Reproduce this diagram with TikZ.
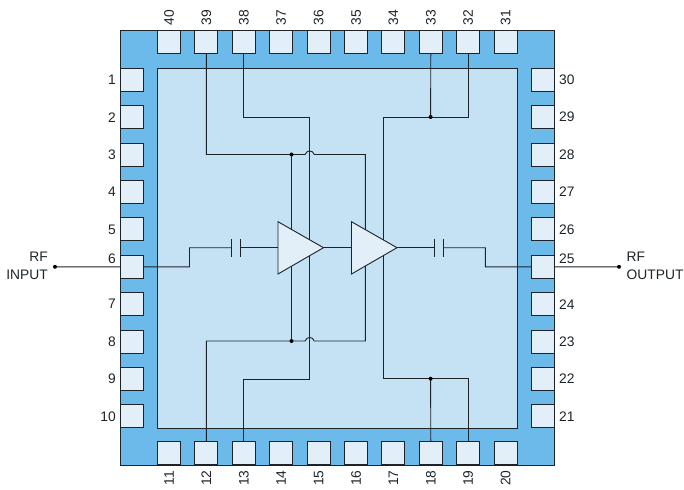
\documentclass[tikz,border=0pt]{standalone}
\usepackage{fontspec}
\setmainfont{Liberation Sans}
\definecolor{pkg}{HTML}{6CBAE9}
\definecolor{die}{HTML}{C5E1F4}
\definecolor{padc}{HTML}{E2EEF8}
\definecolor{ink}{HTML}{1C2429}
\tikzset{
  padbox/.style={draw=ink,fill=padc,line width=0.9pt,minimum width=23pt,minimum height=23pt,inner sep=0pt,outer sep=0pt},
  pinlabel/.style={font=\fontsize{13.8}{14}\selectfont,text=ink,inner sep=0pt},
  wire/.style={draw=ink,line width=0.9pt,line join=miter},
  amp/.style={draw=ink,fill=padc,line width=0.9pt,line join=miter},
  junction/.style={circle,fill=black,minimum size=4pt,inner sep=0pt,outer sep=0pt},
  plate/.style={draw=ink,line width=1pt}
}
\begin{document}
\begin{tikzpicture}[x=1pt,y=-1pt]
\useasboundingbox (0,0) rectangle (684,489);
\node[draw=ink,fill=pkg,line width=0.9pt,minimum width=434pt,minimum height=434.5pt,inner sep=0pt,outer sep=0pt] (pkgbody) at (337.5,247.75) {};
\node[draw=ink,fill=die,line width=0.9pt,minimum width=360pt,minimum height=360pt,inner sep=0pt,outer sep=0pt] (diebody) at (337.5,248) {};
% pads
\foreach \i in {1,...,10}{
  \pgfmathsetmacro{\yy}{79.8+37.4*(\i-1)}
  \pgfmathsetmacro{\ly}{\i==6 ? 258.5 : \yy}
  \node[padbox] (p\i) at (132,\yy) {};
  \node[pinlabel,anchor=east] at (116,\ly) {\i};
  \pgfmathtruncatemacro{\j}{31-\i}
  \node[padbox] (p\j) at (543,\yy) {};
  \node[pinlabel,anchor=west] at (559,\ly) {\j};
}
\foreach \i in {1,...,10}{
  \pgfmathsetmacro{\xx}{169+37.4*(\i-1)}
  \pgfmathtruncatemacro{\j}{10+\i}
  \node[padbox] (p\j) at (\xx,453.4) {};
  \node[pinlabel,rotate=90] at (\xx,478) {\j};
  \pgfmathtruncatemacro{\k}{41-\i}
  \node[padbox] (p\k) at (\xx,42.3) {};
  \node[pinlabel,rotate=90] at (\xx,18) {\k};
}
% helper points
\coordinate (a1in) at (278,247.7);
\coordinate (a1out) at (323.5,247.7);
\coordinate (a2in) at (351.5,247.7);
\coordinate (a2out) at (397,247.7);
% wires: top
\draw[wire] (p39.south) |- (305.2,154.5)
  .. controls (306.2,149.8) and (313.2,149.8) .. (314.2,154.5) -- (365.3,154.5) -- (365.3,247.7);
\draw[wire] (p38.south) |- (309.7,117) -- (309.7,341);
\draw[wire] (291.5,154.5) -- (291.5,341);
% wires: bottom
\draw[wire] (p12.north) |- (305.2,341)
  .. controls (306.2,336.3) and (313.2,336.3) .. (314.2,341) -- (365.3,341) -- (365.3,247.7);
\draw[wire] (p13.north) |- (309.7,379) -- (309.7,336);
\draw[wire] (p32.south) |- (383.3,117) -- (383.3,378.7) -| (p19.north);
\draw[wire] (p33.south) -- (430.6,117);
\draw[wire] (p18.north) -- (430.6,378.7);
% junctions
\node[junction] (j1) at (291.5,154.5) {};
\node[junction] (j2) at (291.5,341) {};
\node[junction] (j3) at (430.6,117) {};
\node[junction] (j4) at (430.6,378.7) {};
% signal path
\coordinate (c1a) at (231,247.7);
\coordinate (c1b) at (240.5,247.7);
\coordinate (c2a) at (434.7,247.7);
\coordinate (c2b) at (443.7,247.7);
\draw[wire] (p6.east) -- (189.5,266.8) -- (189.5,247.7) -- (c1a);
\draw[wire] (c1b) -- (a1in);
\draw[wire] (a1out) -- (a2in);
\draw[wire] (a2out) -- (c2a);
\draw[wire] (c2b) -- (485.3,247.7) -- (485.3,266.8) -- (p25.west);
\draw[plate] (231,238.8) -- (231,256.6);
\draw[plate] (240.5,238.8) -- (240.5,256.6);
\draw[plate] (434.7,238.8) -- (434.7,256.6);
\draw[plate] (443.7,238.8) -- (443.7,256.6);
% amplifiers
\path[amp] (278,221.7) -- (a1out) -- (278,274) -- cycle;
\path[amp] (351.5,221.7) -- (a2out) -- (351.5,274) -- cycle;
% external
\node[junction] (rfin) at (55,266.8) {};
\node[junction] (rfout) at (619,266.8) {};
\draw[wire] (rfin) -- (p6.west);
\draw[wire] (p25.east) -- (rfout);
\node[pinlabel,anchor=east] at (48,257) {RF};
\node[pinlabel,anchor=east] at (48,274.5) {INPUT};
\node[pinlabel,anchor=west] at (626.5,257) {RF};
\node[pinlabel,anchor=west] at (626.5,274.5) {OUTPUT};
\end{tikzpicture}
\end{document}
